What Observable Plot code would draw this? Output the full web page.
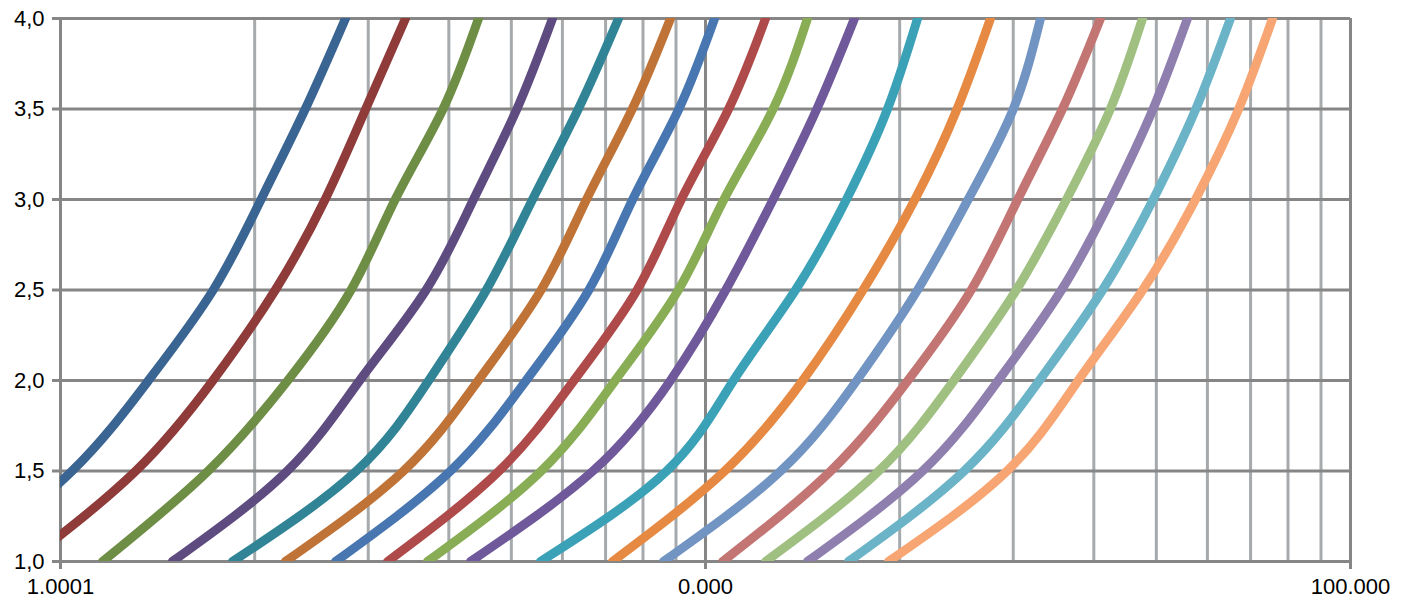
<!DOCTYPE html>
<html>
<head>
<meta charset="utf-8">
<script src="https://cdn.jsdelivr.net/npm/d3@7"></script>
<script src="https://cdn.jsdelivr.net/npm/@observablehq/plot@0.6"></script>
<style>
  html, body { margin: 0; padding: 0; background: #fff; }
  #chart { width: 1408px; height: 598px; }
</style>
</head>
<body>
<div id="chart"></div>
<script>
// y values shared by every curve
const yValues = [1.0, 1.5, 2.0, 2.5, 3.0, 3.5, 4.0];

// x values of each curve at the y values above
const s1  = [0.707, 1.042, 1.369, 1.725, 2.046, 2.396, 2.766];
const s2  = [0.886, 1.308, 1.723, 2.153, 2.572, 2.973, 3.427];
const s3  = [1.162, 1.694, 2.251, 2.821, 3.303, 3.918, 4.447];
const s4  = [1.491, 2.247, 2.910, 3.688, 4.368, 5.101, 5.792];
const s5  = [1.848, 2.875, 3.723, 4.573, 5.393, 6.351, 7.331];
const s6  = [2.232, 3.402, 4.444, 5.561, 6.539, 7.700, 8.825];
const s7  = [2.670, 4.024, 5.271, 6.595, 7.711, 9.094, 10.33];
const s8  = [3.214, 4.786, 6.252, 7.833, 9.172, 10.86, 12.39];
const s9  = [3.707, 5.563, 7.244, 9.078, 10.68, 12.73, 14.39];
const s10 = [4.322, 6.691, 8.825, 10.75, 12.73, 14.88, 17.02];
const s11 = [5.548, 8.706, 11.05, 13.79, 16.54, 19.15, 21.32];
const s12 = [7.175, 10.71, 14.15, 17.55, 21.12, 24.55, 27.66];
const s13 = [8.608, 13.08, 17.16, 21.32, 25.54, 30.01, 33.07];
const s14 = [10.63, 15.64, 20.60, 25.82, 30.49, 35.76, 40.96];
const s15 = [12.39, 18.56, 24.27, 30.33, 36.28, 42.43, 47.59];
const s16 = [14.39, 21.71, 28.44, 35.64, 42.51, 49.42, 55.88];
const s17 = [16.66, 25.18, 32.94, 41.27, 49.44, 57.57, 65.16];
const s18 = [19.22, 29.35, 37.84, 47.63, 57.50, 67.09, 75.71];

const seriesX = [s1, s2, s3, s4, s5, s6, s7, s8, s9, s10, s11, s12, s13, s14, s15, s16, s17, s18];

const seriesColors = [
  "#3A6592", "#8E3B3A", "#6E8E45", "#5E4B80", "#318496", "#BF7337",
  "#4876B0", "#AF4A4A", "#88AD55", "#70599A", "#3BA1B7", "#E68A43",
  "#7194C2", "#C27573", "#A0C082", "#8E7FAE", "#6BB3C7", "#F7A572"
];

// axis ticks and labels (as printed in the original)
const xTicks = [1, 10, 100];
const xTickLabels = ["1.0001", "0.000", "100.000"];
const yTicks = [1.0, 1.5, 2.0, 2.5, 3.0, 3.5, 4.0];
const yTickLabels = ["1,0", "1,5", "2,0", "2,5", "3,0", "3,5", "4,0"];

// build a tidy table for Plot
const rows = [];
seriesX.forEach((xs, si) => {
  xs.forEach((xv, i) => rows.push({series: si, x: xv, y: yValues[i], color: seriesColors[si]}));
});

const minorGrid = d3.scaleLog().domain([1, 100]).ticks().filter(v => !xTicks.includes(v));

const gridDark = "#868686";
const gridLight = "#A7AAAC";

const chart = Plot.plot({
  width: 1408,
  height: 598,
  marginLeft: 60,
  marginRight: 58,
  marginTop: 18,
  marginBottom: 37,
  style: {fontFamily: "'Liberation Sans', Arial, sans-serif", fontSize: "22px", color: "#000", background: "#fff"},
  x: {type: "log", domain: [1, 100]},
  y: {domain: [1, 4]},
  color: {type: "identity"},
  marks: [
    Plot.ruleX(minorGrid, {stroke: gridLight, strokeWidth: 3}),
    Plot.ruleX(xTicks, {stroke: gridDark, strokeWidth: 3}),
    Plot.ruleY(yTicks, {stroke: gridDark, strokeWidth: 3}),
    Plot.line(rows, {
      x: "x", y: "y", z: "series", stroke: "color",
      strokeWidth: 9, curve: "natural", strokeLinecap: "round",
      clip: true
    }),
    Plot.axisX(xTicks, {
      tickSize: 8, tickPadding: 9, stroke: gridDark, strokeWidth: 3, fill: "#000",
      fontSize: 22, label: null,
      tickFormat: (d) => xTickLabels[xTicks.indexOf(d)]
    }),
    Plot.axisY(yTicks, {
      tickSize: 8, tickPadding: 8, stroke: gridDark, strokeWidth: 3, fill: "#000",
      fontSize: 22, label: null,
      tickFormat: (d) => yTickLabels[yTicks.indexOf(d)]
    })
  ]
});

document.getElementById("chart").appendChild(chart);
</script>
</body>
</html>
